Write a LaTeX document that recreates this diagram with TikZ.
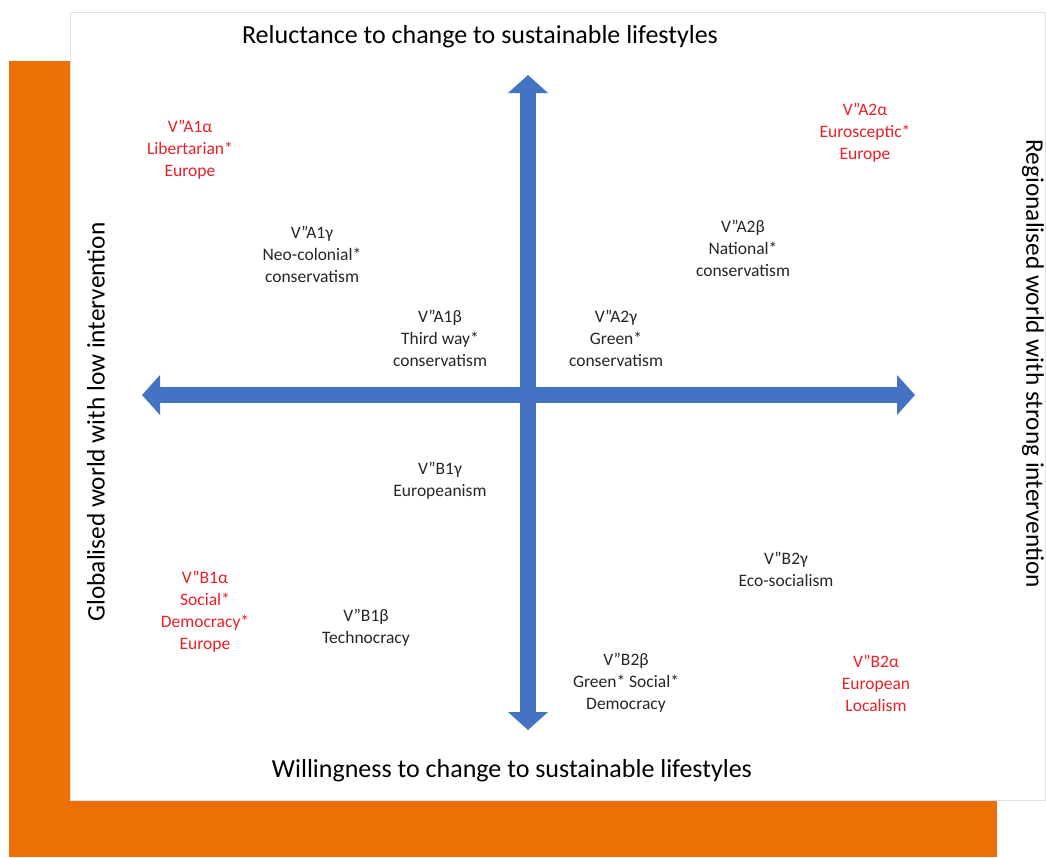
\documentclass[tikz,border=0pt]{standalone}
\usepackage{fontspec}
\setmainfont{Carlito}
\usetikzlibrary{arrows.meta}
\definecolor{frameorange}{RGB}{236,112,5}
\definecolor{axisblue}{RGB}{68,114,196}
\definecolor{alphared}{RGB}{232,32,40}
\definecolor{labelgrey}{RGB}{38,38,38}
\begin{document}
\begin{tikzpicture}[x=1pt,y=-1pt,
  axis/.style={line width=16pt, draw=axisblue,
    {Triangle[width=39pt,length=18pt]}-{Triangle[width=39pt,length=18pt]}},
  axistitle/.style={font=\fontsize{26}{30}\selectfont, text=black, inner sep=0pt},
  sidetitle/.style={axistitle, font=\fontsize{25.3}{30}\selectfont},
  scen/.style={align=center, font=\fontsize{17.5}{22}\selectfont, text=labelgrey, inner sep=0pt},
  scenred/.style={scen, text=alphared}]
\useasboundingbox (0,0) rectangle (1046,857);
% orange backing frame and white panel
\fill[frameorange] (9,61) rectangle (997,857);
\filldraw[fill=white, draw=black!12, line width=1pt] (70,12.5) rectangle (1045.5,800);

% axes
\coordinate (top) at (528,75);
\coordinate (bot) at (528,730);
\coordinate (lft) at (142,395);
\coordinate (rgt) at (915,395);
\draw[axis] (bot) -- (top);
\draw[axis] (lft) -- (rgt);

% axis titles
\node[axistitle] (ttop) at (480,37) {Reluctance to change to sustainable lifestyles};
\node[axistitle] (tbot) at (512,771) {Willingness to change to sustainable lifestyles};
\node[sidetitle, rotate=90] (tlft) at (96,422) {Globalised world with low intervention};
\node[sidetitle, rotate=-90] (trgt) at (1033,364) {Regionalised world with strong intervention};

% scenarios
\node[scenred] (a1a) at (190,150) {V"A1α\\Libertarian*\\Europe};
\node[scenred] (a2a) at (865,133) {V"A2α\\Eurosceptic*\\Europe};
\node[scen] (a1g) at (312,254) {V"A1γ\\Neo-colonial*\\conservatism};
\node[scen] (a2b) at (743,248) {V"A2β\\National*\\conservatism};
\node[scen] (a1b) at (440,338) {V"A1β\\Third way*\\conservatism};
\node[scen] (a2g) at (616,338) {V"A2γ\\Green*\\conservatism};
\node[scen] (b1g) at (440,481) {V"B1γ\\Europeanism};
\node[scen] (b2g) at (786,569) {V"B2γ\\Eco-socialism};
\node[scenred] (b1a) at (205,612) {V"B1α\\Social*\\Democracy*\\Europe};
\node[scen] (b1b) at (366,628) {V"B1β\\Technocracy};
\node[scen] (b2b) at (626,683) {V"B2β\\Green* Social*\\Democracy};
\node[scenred] (b2a) at (876,683) {V"B2α\\European\\Localism};
\end{tikzpicture}
\end{document}
